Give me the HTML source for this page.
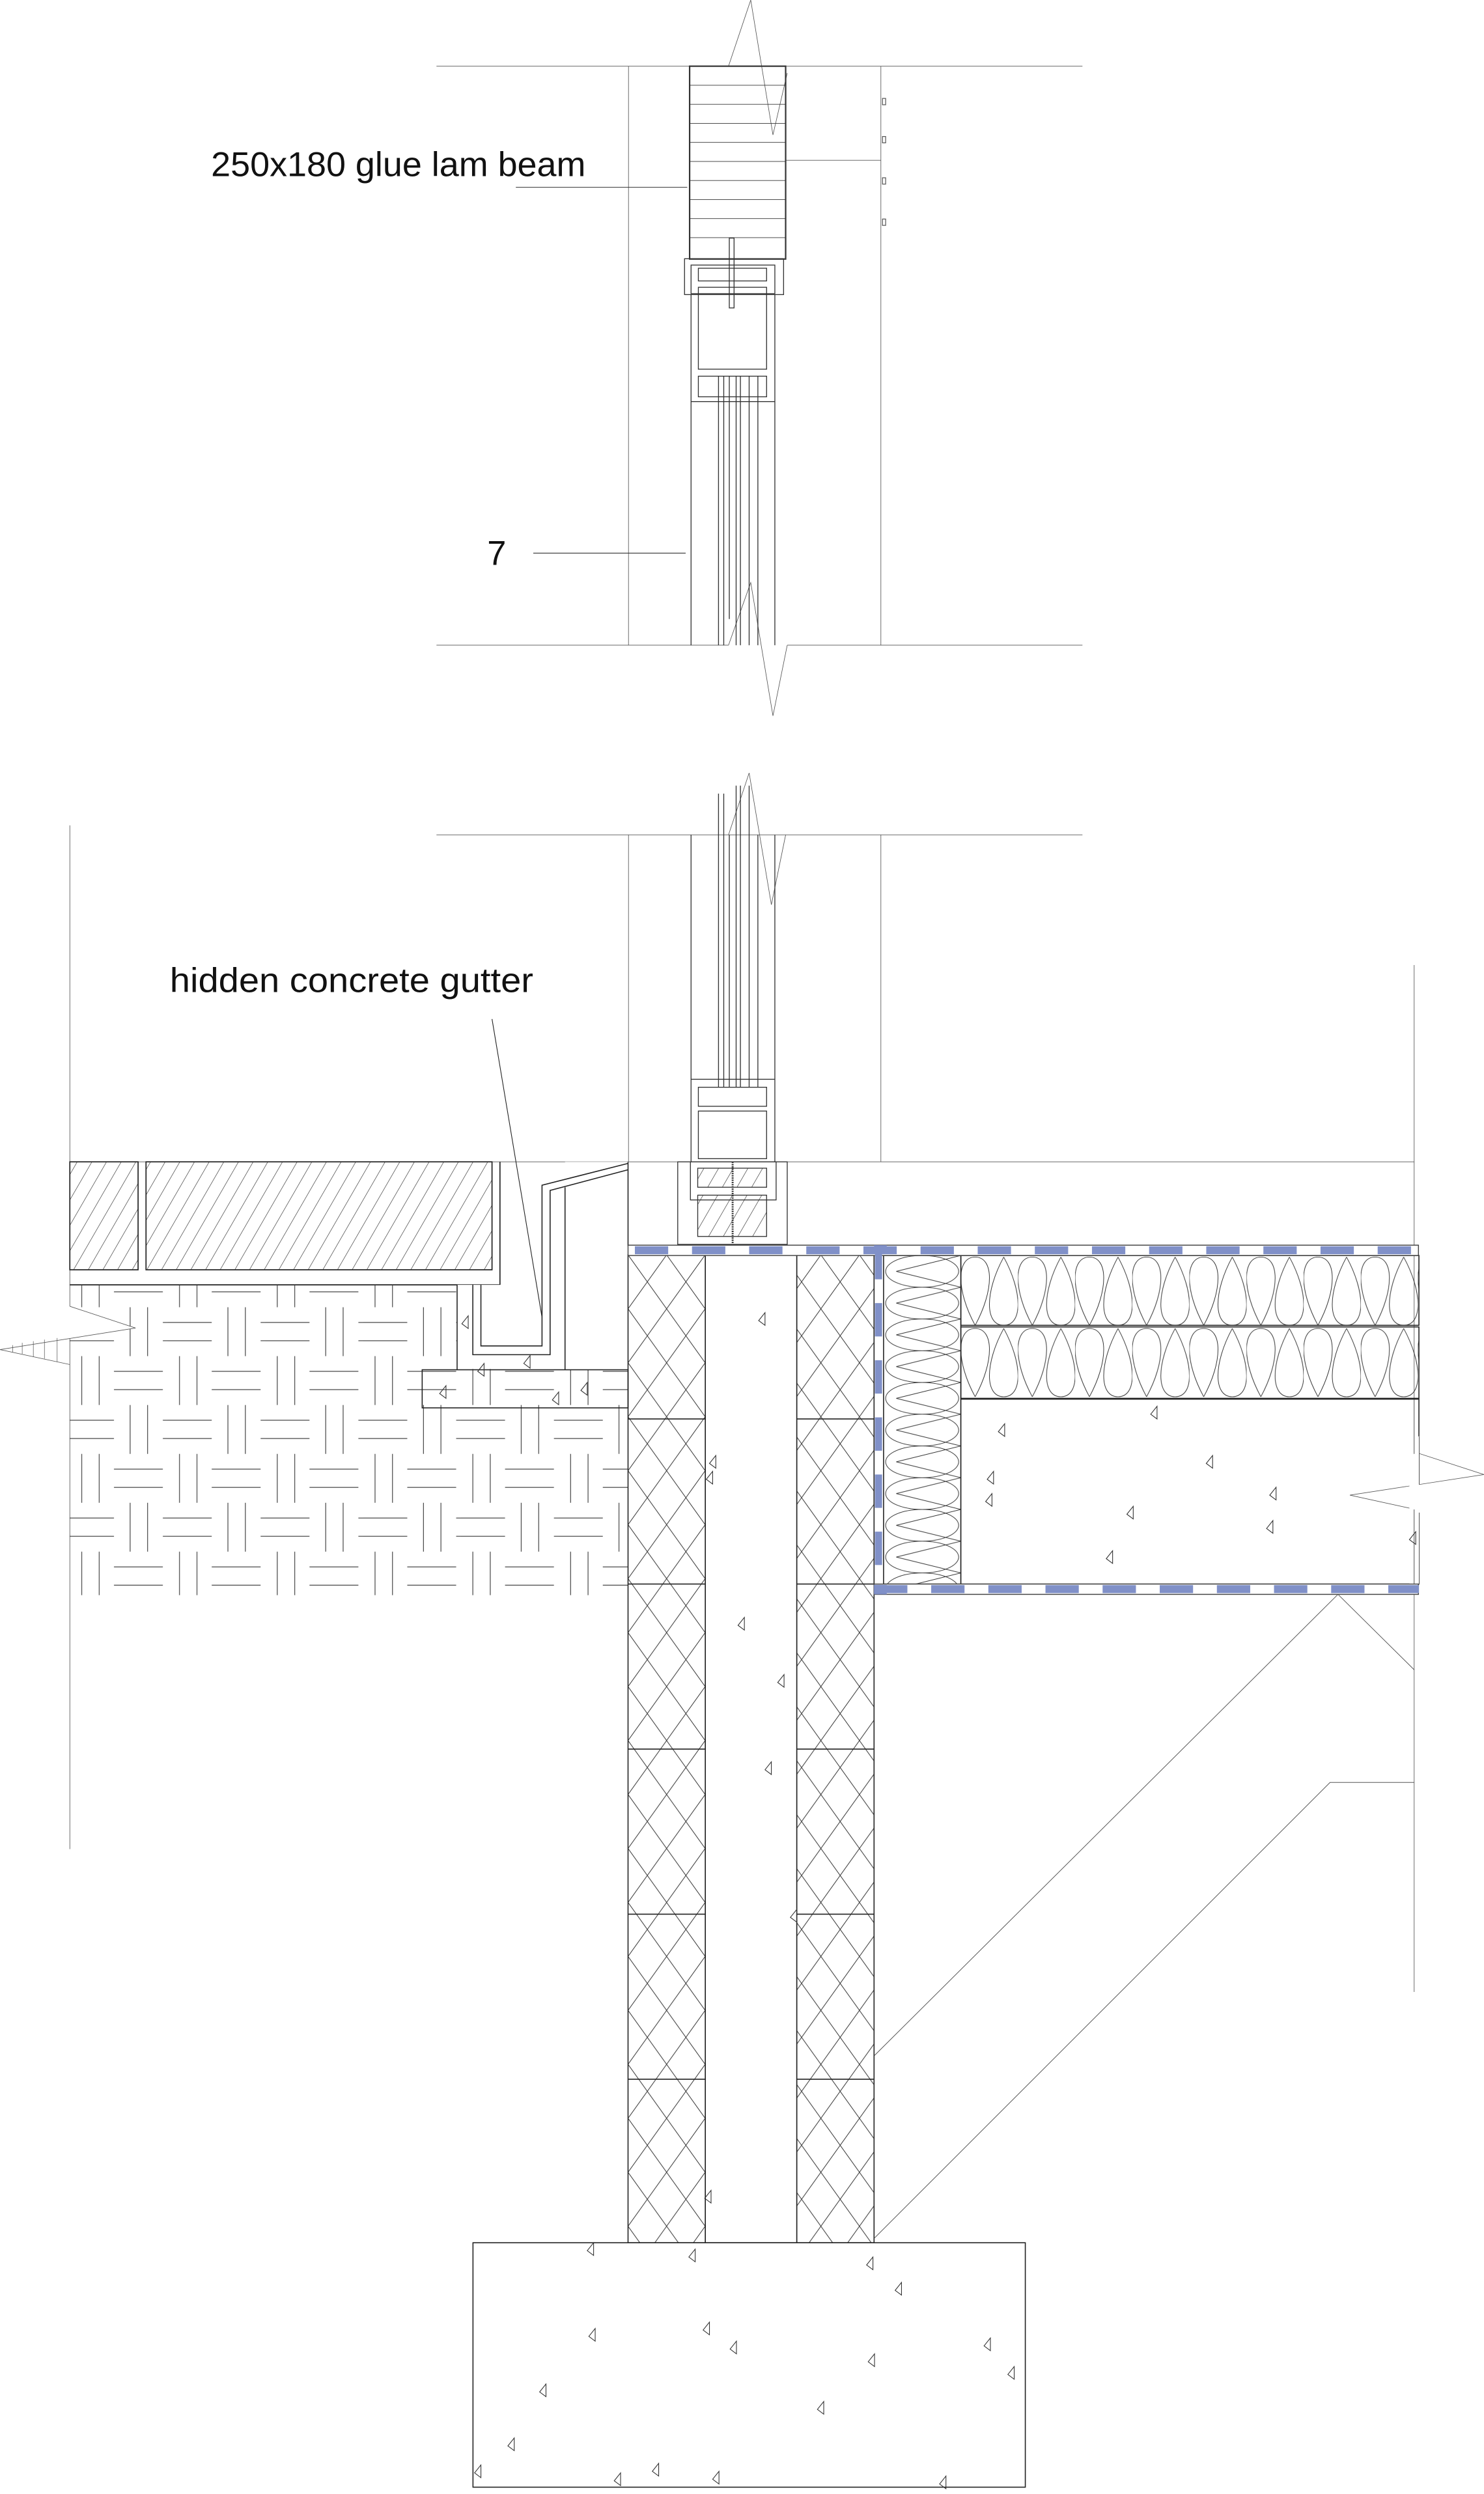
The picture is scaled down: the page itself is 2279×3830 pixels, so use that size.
<!DOCTYPE html>
<html><head><meta charset="utf-8"><style>html,body{margin:0;padding:0;background:#fff}svg{display:block}</style></head>
<body>
<svg width="2279" height="3830" viewBox="0 0 935 1571.3" preserveAspectRatio="none" xmlns="http://www.w3.org/2000/svg">
<defs>
<pattern id="hatch" patternUnits="userSpaceOnUse" width="8" height="8" patternTransform="rotate(30)">
<line x1="0" y1="0" x2="0" y2="8" stroke="#222" stroke-width="0.5"/>
</pattern>
<pattern id="xh" patternUnits="userSpaceOnUse" x="395.7" y="790.6" width="24.3" height="34">
<path d="M0 0L24.3 34M24.3 0L0 34" stroke="#333" stroke-width="0.4" fill="none"/>
</pattern>
<pattern id="pav" patternUnits="userSpaceOnUse" x="44" y="762" width="61.6" height="61.6">
<g stroke="#333" stroke-width="0.45">
<line x1="0" y1="9.6" x2="27.8" y2="9.6"/><line x1="0" y1="21.1" x2="27.8" y2="21.1"/>
<line x1="58.6" y1="9.6" x2="61.6" y2="9.6"/><line x1="58.6" y1="21.1" x2="61.6" y2="21.1"/>
<line x1="38" y1="0" x2="38" y2="30.8"/><line x1="49" y1="0" x2="49" y2="30.8"/>
<line x1="27.8" y1="40.4" x2="58.6" y2="40.4"/><line x1="27.8" y1="51.9" x2="58.6" y2="51.9"/>
<line x1="7.5" y1="30.8" x2="7.5" y2="61.6"/><line x1="18.5" y1="30.8" x2="18.5" y2="61.6"/>
</g>
</pattern>
<pattern id="batt" patternUnits="userSpaceOnUse" x="605.4" y="791" width="36" height="45">
<g stroke="#333" stroke-width="0.4" fill="none">
<path d="M9 44 C-3 22 -3 1 9 1 C21 1 21 22 9 44"/>
<path d="M27 1 C15 23 15 44 27 44 C39 44 39 23 27 1"/>
</g>
</pattern>
<pattern id="rig" patternUnits="userSpaceOnUse" x="556.7" y="791" width="48.7" height="20">
<g stroke="#333" stroke-width="0.4" fill="none">
<ellipse cx="24.3" cy="10" rx="23" ry="10"/>
<path d="M48.7 0 L8 10 L48.7 20"/>
</g>
</pattern>
<g id="tri"><path d="M0 0 L4 -5 L4 3 Z" fill="none" stroke="#333" stroke-width="0.45"/></g>
</defs>

<g stroke="#555" stroke-width="0.35" fill="none">
<line x1="275" y1="41.7" x2="682" y2="41.7"/>
<line x1="275" y1="406.5" x2="459" y2="406.5"/>
<line x1="496" y1="406.5" x2="682" y2="406.5"/>
<line x1="396" y1="41.7" x2="396" y2="406.5"/>
<line x1="555" y1="41.7" x2="555" y2="406.5"/>
<line x1="495" y1="101" x2="555" y2="101"/>
<polyline points="459,41.7 473,0 487,85 496,46"/>
<polyline points="459,406.5 473,367 487,451 496,406.5"/>
<line x1="275" y1="526" x2="682" y2="526"/>
<line x1="396" y1="526" x2="396" y2="732"/>
<line x1="555" y1="526" x2="555" y2="732"/>
<line x1="44" y1="520" x2="44" y2="1165"/>
<line x1="891" y1="608" x2="891" y2="1255"/>
<line x1="44" y1="732" x2="891" y2="732"/>
<polyline points="459,526 472,487 486,570 495,526"/>
</g>
<g stroke="#555" stroke-width="0.5" fill="none">
<rect x="556" y="62" width="2" height="4"/><rect x="556" y="86" width="2" height="4"/>
<rect x="556" y="112" width="2" height="4"/><rect x="556" y="138" width="2" height="4"/>
</g>

<g stroke="#333" fill="none">
<rect x="434.5" y="41.7" width="60.5" height="121.5" stroke-width="0.9"/>
<g stroke-width="0.35">
<line x1="434.5" y1="53.7" x2="495" y2="53.7"/><line x1="434.5" y1="65.7" x2="495" y2="65.7"/>
<line x1="434.5" y1="77.7" x2="495" y2="77.7"/><line x1="434.5" y1="89.7" x2="495" y2="89.7"/>
<line x1="434.5" y1="101.7" x2="495" y2="101.7"/><line x1="434.5" y1="113.7" x2="495" y2="113.7"/>
<line x1="434.5" y1="125.7" x2="495" y2="125.7"/><line x1="434.5" y1="137.7" x2="495" y2="137.7"/>
<line x1="434.5" y1="149.7" x2="495" y2="149.7"/>
</g>
<line x1="325" y1="118" x2="433" y2="118" stroke-width="0.45"/>
<line x1="336" y1="348.5" x2="432" y2="348.5" stroke-width="0.45"/>
<g stroke-width="0.55">
<rect x="431.3" y="163" width="62.4" height="22.6"/>
<line x1="435.4" y1="185.6" x2="435.4" y2="406.5"/><line x1="488.2" y1="185.6" x2="488.2" y2="406.5"/>
<rect x="435.4" y="167" width="52.8" height="18"/>
<rect x="440" y="169" width="43" height="8"/>
<rect x="440" y="181" width="43" height="51.6"/>
<rect x="440" y="237" width="43" height="13"/>
<line x1="435.4" y1="253" x2="488.2" y2="253"/>
<line x1="452.7" y1="237" x2="452.7" y2="406.5"/><line x1="456" y1="237" x2="456" y2="406.5"/>
<line x1="459.5" y1="237" x2="459.5" y2="390"/><line x1="463.8" y1="237" x2="463.8" y2="406.5"/>
<line x1="466.5" y1="237" x2="466.5" y2="406.5"/><line x1="477.5" y1="237" x2="477.5" y2="406.5"/>
<line x1="472" y1="237" x2="472" y2="406.5"/>
<rect x="459.5" y="150" width="3" height="44"/>
</g>
<g stroke-width="0.55">
<line x1="435.4" y1="526" x2="435.4" y2="732"/><line x1="488.2" y1="526" x2="488.2" y2="732"/>
<line x1="452.7" y1="500" x2="452.7" y2="685"/><line x1="456" y1="500" x2="456" y2="685"/>
<line x1="459.5" y1="526" x2="459.5" y2="685"/><line x1="463.8" y1="495" x2="463.8" y2="685"/>
<line x1="466.5" y1="495" x2="466.5" y2="685"/><line x1="472" y1="495" x2="472" y2="685"/><line x1="477.5" y1="526" x2="477.5" y2="685"/>
<rect x="440" y="685" width="43" height="12"/>
<line x1="435.4" y1="680" x2="488.2" y2="680"/>
<rect x="440" y="700" width="43" height="30"/>
<rect x="427" y="732" width="69" height="52"/>
<rect x="435" y="732" width="54" height="24"/>
<rect x="439.6" y="736" width="43.4" height="12" fill="url(#hatch)"/>
<rect x="439.6" y="753" width="43.4" height="26" fill="url(#hatch)"/>
<line x1="461.6" y1="732" x2="461.6" y2="786" stroke-width="1.2" stroke-dasharray="0.8 0.6"/>
</g>
</g>

<g stroke="#222" stroke-width="0.7">
<rect x="44" y="732" width="43" height="68" fill="url(#hatch)"/>
<rect x="92" y="732" width="218" height="68" fill="url(#hatch)"/>
<polyline points="44,809.5 315,809.5 315,732" fill="none"/>
</g>
<rect x="44" y="809.5" width="351.7" height="195.5" fill="url(#pav)"/>
<rect x="288" y="809.5" width="68" height="53" fill="#fff"/>
<rect x="356" y="732" width="40" height="131" fill="#fff"/>
<polygon points="44,823 85.4,836.7 0,850.3 44,859.7 30,859.7 30,823" fill="#fff"/>
<polyline points="44,823 85.4,836.7 0,850.3 44,859.7" fill="none" stroke="#555" stroke-width="0.35"/>
<g stroke="#555" stroke-width="0.3"><line x1="8" y1="847.5" x2="8" y2="852"/><line x1="14" y1="846" x2="14" y2="853"/><line x1="21" y1="845" x2="21" y2="855"/><line x1="28" y1="844" x2="28" y2="856"/><line x1="36" y1="843" x2="36" y2="858"/></g>

<g stroke="#222" stroke-width="0.65" fill="none">
<polyline points="288,809.5 288,863"/>
<polyline points="297.9,809.5 297.9,853.5 346.6,853.5 346.6,750 395.7,737"/>
<polyline points="303,809.5 303,848 341.5,848 341.5,746.7 395.7,733"/>
<line x1="356" y1="748" x2="356" y2="863"/>
<rect x="266" y="863" width="129.7" height="24"/>
<line x1="395.7" y1="732" x2="395.7" y2="785"/>
<line x1="310" y1="642" x2="341.5" y2="830" stroke-width="0.45"/>
</g>

<g stroke="#222" stroke-width="0.65">
<rect x="395.7" y="790.6" width="48.7" height="622.4" fill="url(#xh)"/>
<rect x="502" y="790.6" width="48.7" height="622.4" fill="url(#xh)"/>
<rect x="444.4" y="790.6" width="57.6" height="622.4" fill="#fff"/>
<g fill="none"><line x1="395.7" y1="894" x2="444.4" y2="894"/><line x1="502" y1="894" x2="550.7" y2="894"/>
<line x1="395.7" y1="998" x2="444.4" y2="998"/><line x1="502" y1="998" x2="550.7" y2="998"/>
<line x1="395.7" y1="1102" x2="444.4" y2="1102"/><line x1="502" y1="1102" x2="550.7" y2="1102"/>
<line x1="395.7" y1="1206" x2="444.4" y2="1206"/><line x1="502" y1="1206" x2="550.7" y2="1206"/>
<line x1="395.7" y1="1310" x2="444.4" y2="1310"/><line x1="502" y1="1310" x2="550.7" y2="1310"/></g>
</g>

<g stroke="#222" stroke-width="0.65">
<rect x="556.7" y="791" width="48.7" height="207" fill="url(#rig)"/>
<rect x="605.4" y="791" width="288.6" height="44" fill="url(#batt)"/>
<rect x="605.4" y="836" width="288.6" height="45" fill="url(#batt)"/>
<rect x="605.4" y="881.5" width="288.6" height="116.5" fill="#fff"/>
</g>
<polygon points="894,905 936,929 850.5,942 894,953 900,953 900,905" fill="#fff"/>
<polyline points="894,915.7 935,929 850.5,942 894,951.5" fill="none" stroke="#555" stroke-width="0.35"/>
<line x1="891" y1="905" x2="891" y2="1000" stroke="#fff" stroke-width="6"/>
<line x1="891" y1="881.5" x2="891" y2="916" stroke="#333" stroke-width="0.35"/>
<line x1="891" y1="951" x2="891" y2="998" stroke="#333" stroke-width="0.35"/>

<g>
<rect x="395.7" y="784.5" width="498" height="6.5" fill="#fff" stroke="#444" stroke-width="0.6"/>
<line x1="400" y1="787.7" x2="894" y2="787.7" stroke="#8090c8" stroke-width="5" stroke-dasharray="21 15"/>
<rect x="550.7" y="998" width="343" height="6.5" fill="#fff" stroke="#444" stroke-width="0.6"/>
<line x1="550.7" y1="1001.2" x2="894" y2="1001.2" stroke="#8090c8" stroke-width="5" stroke-dasharray="21 15"/>
<line x1="553.5" y1="785" x2="553.5" y2="1004" stroke="#8090c8" stroke-width="4.5" stroke-dasharray="21 15"/>
<rect x="550.7" y="784.5" width="8" height="5" fill="#8090c8"/>
<rect x="550.7" y="998.5" width="8" height="6" fill="#8090c8"/>
</g>

<g stroke="#555" stroke-width="0.4" fill="none">
<line x1="843" y1="1004.5" x2="551" y2="1295"/>
<line x1="843" y1="1004.5" x2="891" y2="1052"/>
<polyline points="551,1410 838,1123 891,1123"/>
</g>

<rect x="298" y="1413" width="348" height="154" fill="#fff" stroke="#222" stroke-width="0.65"/>

<g>
<use href="#tri" x="478" y="832"/><use href="#tri" x="447" y="922"/><use href="#tri" x="445" y="932"/><use href="#tri" x="465" y="1024"/>
<use href="#tri" x="490" y="1060"/><use href="#tri" x="482" y="1115"/><use href="#tri" x="498" y="1208"/><use href="#tri" x="444" y="1385"/>
<use href="#tri" x="629" y="902"/><use href="#tri" x="760" y="922"/><use href="#tri" x="622" y="932"/><use href="#tri" x="621" y="946"/>
<use href="#tri" x="710" y="954"/><use href="#tri" x="798" y="963"/><use href="#tri" x="697" y="982"/><use href="#tri" x="725" y="891"/>
<use href="#tri" x="800" y="942"/><use href="#tri" x="888" y="970"/>
<use href="#tri" x="370" y="1418"/><use href="#tri" x="434" y="1422"/><use href="#tri" x="546" y="1427"/><use href="#tri" x="564" y="1443"/>
<use href="#tri" x="371" y="1472"/><use href="#tri" x="443" y="1468"/><use href="#tri" x="460" y="1480"/><use href="#tri" x="547" y="1488"/>
<use href="#tri" x="620" y="1478"/><use href="#tri" x="635" y="1496"/><use href="#tri" x="340" y="1507"/><use href="#tri" x="515" y="1518"/>
<use href="#tri" x="320" y="1541"/><use href="#tri" x="411" y="1557"/><use href="#tri" x="387" y="1563"/><use href="#tri" x="449" y="1562"/>
<use href="#tri" x="592" y="1565"/><use href="#tri" x="299" y="1558"/>
<use href="#tri" x="301" y="864"/><use href="#tri" x="277" y="878"/><use href="#tri" x="366" y="876"/><use href="#tri" x="348" y="882"/>
<use href="#tri" x="291" y="834"/><use href="#tri" x="330" y="859"/>
</g>

<g font-family="'Liberation Sans', sans-serif" fill="#111">
<text x="133" y="111" font-size="21.5" textLength="236" lengthAdjust="spacingAndGlyphs">250x180 glue lam beam</text>
<text x="307" y="356" font-size="21.5">7</text>
<text x="107" y="625" font-size="21.5" textLength="229" lengthAdjust="spacingAndGlyphs">hidden concrete gutter</text>
</g>
</svg>
</body></html>
